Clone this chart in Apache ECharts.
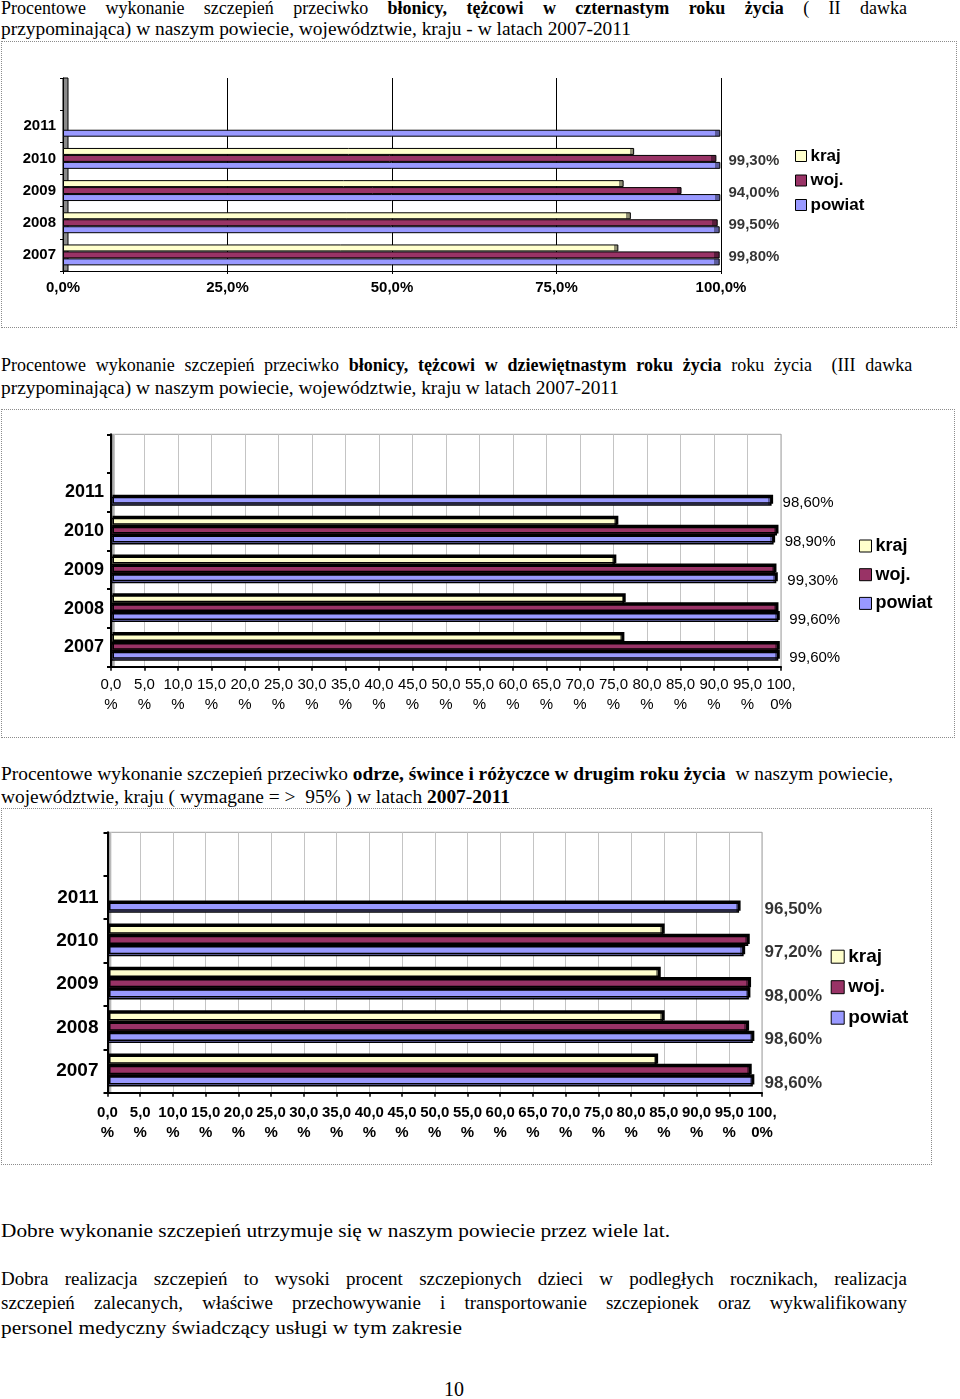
<!DOCTYPE html>
<html lang="pl"><head><meta charset="utf-8"><title>Szczepienia</title>
<script src="https://cdn.jsdelivr.net/npm/echarts@6.0.0/dist/echarts.min.js"></script>
<style>
html,body{margin:0;padding:0;background:#fff}
body{position:relative;width:960px;height:1399px;overflow:hidden;font-family:"Liberation Serif","Times New Roman",serif;color:#000}
.ln{position:absolute;left:1px;white-space:nowrap;font-size:18px;line-height:22px;transform-origin:0 50%}
.lb{font-size:19px;line-height:24px}
.box{position:absolute;left:1px;border:1px dotted #8c8c8c;box-sizing:border-box}
.chart{width:100%;height:100%}
</style></head><body>

<div class="ln" data-w="906" data-j="1" style="top:-3px">Procentowe wykonanie szczepień przeciwko <b>błonicy, tężcowi w czternastym roku życia</b> ( II dawka</div>
<div class="ln" data-w="630" style="top:18px">przypominająca) w naszym powiecie, województwie, kraju - w latach 2007-2011</div>
<div class="box" style="top:41px;width:956px;height:287px"><div id="c1" class="chart"></div></div>

<div class="ln" data-w="906" data-j="1" style="top:354px">Procentowe wykonanie szczepień przeciwko <b>błonicy, tężcowi w dziewiętnastym roku życia</b> roku życia &nbsp;(III dawka</div>
<div class="ln" data-w="618" style="top:377px">przypominająca) w naszym powiecie, województwie, kraju w latach 2007-2011</div>
<div class="box" style="top:409px;width:954px;height:329px"><div id="c2" class="chart"></div></div>

<div class="ln" data-w="892" style="top:763px">Procentowe wykonanie szczepień przeciwko <b>odrze, śwince i różyczce w drugim roku życia</b> &nbsp;w naszym powiecie,</div>
<div class="ln" data-w="509" style="top:786px">województwie, kraju ( wymagane = &gt; &nbsp;95% ) w latach <b>2007-2011</b></div>
<div class="box" style="top:808px;width:931px;height:357px"><div id="c3" class="chart"></div></div>

<div class="ln lb" data-w="669" style="top:1219px">Dobre wykonanie szczepień utrzymuje się w naszym powiecie przez wiele lat.</div>
<div class="ln lb" data-w="906" data-j="1" style="top:1267px">Dobra realizacja szczepień to wysoki procent szczepionych dzieci w podległych rocznikach, realizacja</div>
<div class="ln lb" data-w="906" data-j="1" style="top:1291px">szczepień zalecanych, właściwe przechowywanie i transportowanie szczepionek oraz wykwalifikowany</div>
<div class="ln lb" data-w="461" style="top:1316px">personel medyczny świadczący usługi w tym zakresie</div>
<div class="ln" style="top:1377px;left:444px;font-size:20px;line-height:24px">10</div>

<script>
// ---------- data ----------
const years = ['2007', '2008', '2009', '2010', '2011'];
const yCats = years.concat(['']);
const seriesNames = ['kraj', 'woj.', 'powiat'];

// chart 1: II dawka przypominająca (14 r.ż.)
const kraj1   = [84.4, 86.3, 85.2, 86.8, null];
const woj1    = [99.8, 99.5, 94.0, 99.3, null];
const powiat1 = [99.8, 99.8, 99.9, 99.9, 99.9];
const ticks1  = ['0,0%', '25,0%', '50,0%', '75,0%', '100,0%'];

// chart 2: III dawka przypominająca (19 r.ż.)
const kraj2   = [76.4, 76.6, 75.2, 75.5, null];
const woj2    = [99.6, 99.4, 99.1, 99.4, null];
const powiat2 = [99.6, 99.6, 99.3, 98.9, 98.6];

// chart 3: odra, świnka, różyczka (2 r.ż.)
const kraj3   = [83.9, 84.9, 84.3, 84.9, null];
const woj3    = [98.2, 97.8, 98.1, 97.9, null];
const powiat3 = [98.6, 98.6, 98.0, 97.2, 96.5];

const pctTicks = ['0,0\n%', '5,0\n%', '10,0\n%', '15,0\n%', '20,0\n%', '25,0\n%', '30,0\n%',
  '35,0\n%', '40,0\n%', '45,0\n%', '50,0\n%', '55,0\n%', '60,0\n%', '65,0\n%', '70,0\n%',
  '75,0\n%', '80,0\n%', '85,0\n%', '90,0\n%', '95,0\n%', '100,\n0%'];

// ---------- styling ----------
const SANS = '"Liberation Sans", Arial, sans-serif';
const fill = { 'kraj': '#FFFFCC', 'woj.': '#993366', 'powiat': '#9999FF' };
const cap  = { 'kraj': '#8f8f73', 'woj.': '#5a1d3c', 'powiat': '#5c5c9c' };
const fmt = v => v.toFixed(2).replace('.', ',') + '%';

function capFill(name, frac) {
  return { type: 'linear', x: 0, y: 0, x2: 1, y2: 0, colorStops: [
    { offset: 0, color: fill[name] }, { offset: frac, color: fill[name] },
    { offset: frac, color: cap[name] }, { offset: 1, color: cap[name] }] };
}
function bars(name, data, o) {
  return Object.assign({
    type: 'bar', name: name, data: data, barGap: '0%', barCategoryGap: o.gap,
    itemStyle: Object.assign({ color: capFill(name, o.frac), borderColor: '#000', borderWidth: o.bw }, o.shadow || {}),
    emphasis: { disabled: true }
  }, o.extra || {});
}
function legendOf(o) {
  return {
    orient: 'vertical', left: o.left, top: o.top, padding: 0, icon: 'rect', selectedMode: false,
    itemWidth: o.icon, itemHeight: o.icon, itemGap: o.gap,
    textStyle: { fontFamily: SANS, fontWeight: 'bold', fontSize: o.fs, lineHeight: o.fs, color: '#000', padding: [0, 0, 0, -1] },
    data: seriesNames.map(n => ({ name: n, itemStyle: { color: fill[n], borderColor: '#000', borderWidth: 1 } }))
  };
}
function labelSeries(vals, o) {
  return {
    type: 'scatter', name: 'etykiety', silent: true, symbolSize: 1, z: 6,
    itemStyle: { color: 'rgba(0,0,0,0)' },
    data: vals.map((v, i) => v == null ? null : [100, years[i], v]).filter(Boolean),
    label: { show: true, position: 'right', distance: o.dist, offset: o.off,
      formatter: p => fmt(p.value[2]), fontFamily: SANS, fontWeight: o.fw, fontSize: o.fs, color: '#000' }
  };
}

// ---------- chart 1 ----------
const g1 = { left: 61, top: 36, width: 658, height: 193 };
const opt1 = {
  animation: false,
  grid: Object.assign({ outerBoundsMode: 'none', show: false }, g1),
  xAxis: { type: 'value', min: 0, max: 100, interval: 25,
    axisLine: { show: true, lineStyle: { color: '#000', width: 1 } },
    axisTick: { show: true, length: 3, lineStyle: { color: '#000' } },
    splitLine: { show: true, lineStyle: { color: '#000', width: 1 } },
    axisLabel: { margin: 9, hideOverlap: false, fontFamily: SANS, fontWeight: 'bold', fontSize: 15, color: '#000',
      formatter: v => ticks1[Math.round(v / 25)] } },
  yAxis: { type: 'category', data: yCats,
    axisLine: { show: true, lineStyle: { color: '#000', width: 1 } },
    axisTick: { show: true, length: 3, lineStyle: { color: '#000' } },
    axisLabel: { interval: 0, margin: 7, fontFamily: SANS, fontWeight: 'bold', fontSize: 15, color: '#000' } },
  legend: legendOf({ left: 793, top: 105.5, icon: 11, gap: 7.5, fs: 17 }),
  graphic: [{ type: 'rect', z: 0, shape: { x: g1.left, y: g1.top, width: 5, height: g1.height },
    style: { fill: '#8a8a8a', stroke: '#000', lineWidth: 1 } }],
  series: [
    bars('kraj', kraj1, { gap: '35%', frac: 0.992, bw: 1 }),
    bars('woj.', woj1, { gap: '35%', frac: 0.992, bw: 1 }),
    bars('powiat', powiat1, { gap: '35%', frac: 0.992, bw: 1 }),
    labelSeries(woj1, { dist: 7, off: [0, 2], fw: 'bold', fs: 15 })
  ]
};

// ---------- chart 2 & 3 common ----------
function optPct(g, o) {
  const sh = { shadowColor: '#000', shadowBlur: 0, shadowOffsetX: 1.5, shadowOffsetY: -2 };
  const s = [
    bars('kraj', o.kraj, { gap: o.gap, frac: 0.995, bw: 1.5, shadow: sh }),
    bars('woj.', o.woj, { gap: o.gap, frac: 0.995, bw: 1.5, shadow: sh }),
    bars('powiat', o.powiat, { gap: o.gap, frac: 0.995, bw: 1.5, shadow: sh, extra: o.barLabel ? { label: o.barLabel } : {} })
  ];
  if (o.labelSeries) s.push(o.labelSeries);
  return {
    animation: false,
    grid: Object.assign({ outerBoundsMode: 'none', show: true, borderColor: '#a0a0a0', borderWidth: 1, backgroundColor: '#fff' }, g),
    xAxis: { type: 'value', min: 0, max: 100, interval: 5,
      axisLine: { show: true, lineStyle: { color: '#000', width: 2 } },
      axisTick: { show: true, length: 4, lineStyle: { color: '#000', width: 1.5 } },
      splitLine: { show: true, lineStyle: { color: '#c4c4c4', width: 1 } },
      axisLabel: { margin: o.xMargin, hideOverlap: false, fontFamily: SANS, fontWeight: o.xfw, fontSize: 15, lineHeight: 20, color: '#000',
        formatter: v => pctTicks[Math.round(v / 5)] } },
    yAxis: { type: 'category', data: yCats,
      axisLine: { show: true, lineStyle: { color: '#000', width: 2 } },
      axisTick: { show: true, length: 4, lineStyle: { color: '#000', width: 2 } },
      axisLabel: { interval: 0, margin: o.yMargin, fontFamily: SANS, fontWeight: 'bold', fontSize: o.yfs, color: '#000' } },
    legend: o.legend,
    graphic: [{ type: 'rect', z: 0, shape: { x: g.left, y: g.top, width: 4, height: g.height },
      style: { fill: { type: 'linear', x: 0, y: 0, x2: 1, y2: 0, colorStops: [{ offset: 0, color: '#777' }, { offset: 1, color: '#d0d0d0' }] } } }],
    series: s
  };
}

const opt2 = optPct({ left: 109, top: 24.3, width: 670, height: 232.4 }, {
  kraj: kraj2, woj: woj2, powiat: powiat2, gap: '31%', xMargin: 8, xfw: 'normal', yMargin: 7, yfs: 18,
  barLabel: { show: true, position: 'right', distance: 11, offset: [0, 2], formatter: p => fmt(p.value),
    fontFamily: SANS, fontWeight: 'normal', fontSize: 15, color: '#000' },
  legend: legendOf({ left: 857, top: 127, icon: 12, gap: 10.7, fs: 18 })
});

const opt3 = optPct({ left: 105.5, top: 23.3, width: 654.5, height: 260.4 }, {
  kraj: kraj3, woj: woj3, powiat: powiat3, gap: '29%', xMargin: 10, xfw: 'bold', yMargin: 9, yfs: 19,
  labelSeries: labelSeries(powiat3, { dist: 2, off: [0, 12], fw: 'bold', fs: 17 }),
  legend: legendOf({ left: 828.7, top: 138.2, icon: 13, gap: 11.5, fs: 19 })
});

function fitLines() {
  document.querySelectorAll('.ln[data-w]').forEach(el => {
    const target = +el.dataset.w;
    const w0 = el.getBoundingClientRect().width;
    if (!w0) return;
    if (el.dataset.j) {
      const n = (el.textContent.trim().match(/\s+/g) || []).length;
      if (w0 < target && n) el.style.wordSpacing = ((target - w0) / n) + 'px';
      else el.style.transform = 'scaleX(' + (target / w0) + ')';
    } else {
      el.style.transform = 'scaleX(' + (target / w0) + ')';
    }
  });
}
fitLines();

echarts.init(document.getElementById('c1'), null, { renderer: 'canvas' }).setOption(opt1);
echarts.init(document.getElementById('c2'), null, { renderer: 'canvas' }).setOption(opt2);
echarts.init(document.getElementById('c3'), null, { renderer: 'canvas' }).setOption(opt3);
</script>
</body></html>
